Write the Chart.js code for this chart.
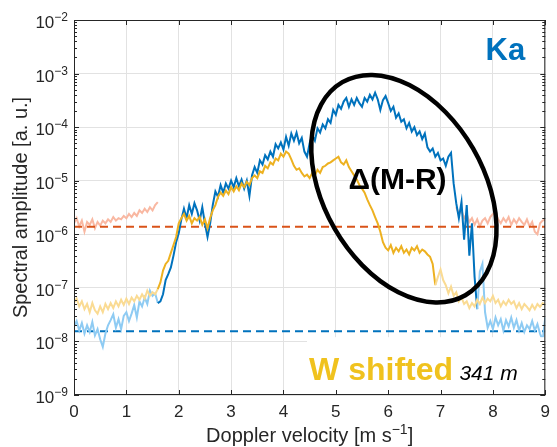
<!DOCTYPE html>
<html>
<head>
<meta charset="utf-8">
<script src="https://cdn.jsdelivr.net/npm/chart.js@4.4.1/dist/chart.umd.min.js"></script>
<style>
  html, body { margin: 0; padding: 0; background: #fff; }
  #wrap { width: 557px; height: 447px; }
</style>
</head>
<body>
<div id="wrap"><canvas id="spectrumChart" width="557" height="447"></canvas></div>
<script>
// Doppler velocity bins [m/s]
const velocity = [
  0, 0.05, 0.1, 0.15, 0.2, 0.25, 0.3, 0.35, 0.4, 0.45,
  0.5, 0.55, 0.6, 0.65, 0.7, 0.75, 0.8, 0.85, 0.9, 0.95,
  1, 1.05, 1.1, 1.15, 1.2, 1.25, 1.3, 1.35, 1.4, 1.45,
  1.5, 1.55, 1.6, 1.65, 1.7, 1.75, 1.8, 1.85, 1.9, 1.95,
  2, 2.05, 2.1, 2.15, 2.2, 2.25, 2.3, 2.35, 2.4, 2.45,
  2.5, 2.55, 2.6, 2.65, 2.7, 2.75, 2.8, 2.85, 2.9, 2.95,
  3, 3.05, 3.1, 3.15, 3.2, 3.25, 3.3, 3.35, 3.4, 3.45,
  3.5, 3.55, 3.6, 3.65, 3.7, 3.75, 3.8, 3.85, 3.9, 3.95,
  4, 4.05, 4.1, 4.15, 4.2, 4.25, 4.3, 4.35, 4.4, 4.45,
  4.5, 4.55, 4.6, 4.65, 4.7, 4.75, 4.8, 4.85, 4.9, 4.95,
  5, 5.05, 5.1, 5.15, 5.2, 5.25, 5.3, 5.35, 5.4, 5.45,
  5.5, 5.55, 5.6, 5.65, 5.7, 5.75, 5.8, 5.85, 5.9, 5.95,
  6, 6.05, 6.1, 6.15, 6.2, 6.25, 6.3, 6.35, 6.4, 6.45,
  6.5, 6.55, 6.6, 6.65, 6.7, 6.75, 6.8, 6.85, 6.9, 6.95,
  7, 7.05, 7.1, 7.15, 7.2, 7.25, 7.3, 7.35, 7.4, 7.45,
  7.5, 7.55, 7.6, 7.65, 7.7, 7.75, 7.8, 7.85, 7.9, 7.95,
  8, 8.05, 8.1, 8.15, 8.2, 8.25, 8.3, 8.35, 8.4, 8.45,
  8.5, 8.55, 8.6, 8.65, 8.7, 8.75, 8.8, 8.85, 8.9, 8.95,
  9
];

// Ka spectrum [a. u.]
const kaAmplitude = [
  1.9e-8, 2.4e-8, 1.6e-8, 2.2e-8, 1.4e-8, 2.0e-8, 1.5e-8, 2.3e-8, 1.3e-8, 1.7e-8,
  1.1e-8, 7.9e-9, 1.4e-8, 2.0e-8, 2.5e-8, 3.2e-8, 1.8e-8, 2.6e-8, 1.7e-8, 3.0e-8,
  3.5e-8, 2.4e-8, 3.3e-8, 4.8e-8, 2.8e-8, 5.6e-8, 4.5e-8, 6.6e-8, 5.0e-8, 8.9e-8,
  7.1e-8, 7.9e-8, 5.2e-8, 5.6e-8, 7.6e-8, 1.4e-7, 1.8e-7, 2.4e-7, 4.0e-7, 7.1e-7,
  1.05e-6, 1.9e-6, 3.0e-6, 2.0e-6, 3.5e-6, 2.4e-6, 3.8e-6, 2.8e-6, 1.8e-6, 3.2e-6,
  1.6e-6, 8.9e-7, 1.6e-6, 3.5e-6, 6.3e-6, 5.0e-6, 8.3e-6, 6.0e-6, 8.9e-6, 7.1e-6,
  1.0e-5, 7.6e-6, 1.12e-5, 7.9e-6, 1.05e-5, 7.1e-6, 1.0e-5, 5.2e-6, 1.26e-5, 1.8e-5,
  1.4e-5, 2.4e-5, 2.0e-5, 3.0e-5, 2.5e-5, 3.5e-5, 2.8e-5, 4.8e-5, 4.0e-5, 5.2e-5,
  3.8e-5, 6.6e-5, 4.5e-5, 7.6e-5, 5.6e-5, 7.9e-5, 5.0e-5, 6.3e-5, 3.5e-5, 2.8e-5,
  5.0e-5, 7.1e-5, 5.6e-5, 9.5e-5, 7.9e-5, 1.12e-4, 9.5e-5, 1.4e-4, 1.2e-4, 2.1e-4,
  1.7e-4, 2.6e-4, 2.2e-4, 3.0e-4, 3.5e-4, 2.4e-4, 3.3e-4, 2.6e-4, 3.5e-4, 2.8e-4,
  2.4e-4, 3.5e-4, 3.0e-4, 4.0e-4, 3.3e-4, 4.4e-4, 3.3e-4, 2.1e-4, 3.2e-4, 3.8e-4,
  2.8e-4, 2.0e-4, 2.4e-4, 1.5e-4, 1.8e-4, 1.26e-4, 1.4e-4, 9.5e-5, 1.2e-4, 8.3e-5,
  1.0e-4, 7.1e-5, 8.3e-5, 6.0e-5, 7.6e-5, 4.2e-5, 3.5e-5, 4.0e-5, 2.8e-5, 3.3e-5,
  2.4e-5, 2.6e-5, 1.9e-5, 2.8e-5, 3.3e-5, 8.9e-6, 3.8e-6, 2.0e-6, 4.0e-6, 7.9e-7,
  3.5e-6, 4.0e-7, 1.6e-6, 1.6e-7, 4.0e-8, 2.0e-7, 2.8e-7, 3.5e-8, 1.8e-8, 2.4e-8,
  1.7e-8, 2.8e-8, 2.0e-8, 2.6e-8, 1.6e-8, 2.5e-8, 1.9e-8, 2.8e-8, 1.8e-8, 2.5e-8,
  1.6e-8, 2.2e-8, 1.5e-8, 2.0e-8, 1.7e-8, 2.4e-8, 1.6e-8, 2.1e-8, 1.4e-8, 1.05e-8,
  2.8e-8
];

// W spectrum, shifted by 341 m [a. u.]
const wShiftedAmplitude = [
  5.2e-8, 6.3e-8, 4.5e-8, 5.6e-8, 4.0e-8, 5.0e-8, 3.5e-8, 5.2e-8, 3.8e-8, 3.3e-8,
  4.5e-8, 3.5e-8, 5.0e-8, 4.0e-8, 5.2e-8, 4.2e-8, 5.6e-8, 4.5e-8, 6.0e-8, 4.8e-8,
  6.3e-8, 5.0e-8, 6.6e-8, 5.6e-8, 7.1e-8, 6.0e-8, 7.6e-8, 6.3e-8, 8.9e-8, 7.1e-8,
  8.3e-8, 7.6e-8, 9.5e-8, 1.26e-7, 2.1e-7, 2.8e-7, 3.2e-7, 4.5e-7, 6.3e-7, 8.9e-7,
  1.6e-6, 2.0e-6, 2.4e-6, 1.8e-6, 2.2e-6, 1.6e-6, 2.0e-6, 1.8e-6, 2.1e-6, 1.5e-6,
  1.9e-6, 1.3e-6, 2.0e-6, 2.8e-6, 3.5e-6, 5.0e-6, 6.0e-6, 5.2e-6, 6.6e-6, 5.6e-6,
  7.6e-6, 6.3e-6, 7.9e-6, 6.6e-6, 8.9e-6, 7.6e-6, 9.5e-6, 8.3e-6, 1.12e-5, 1.26e-5,
  1.12e-5, 1.5e-5, 1.4e-5, 1.9e-5, 1.7e-5, 2.2e-5, 2.0e-5, 2.6e-5, 2.4e-5, 3.2e-5,
  2.8e-5, 3.5e-5, 3.2e-5, 2.5e-5, 1.9e-5, 1.6e-5, 1.7e-5, 1.4e-5, 1.2e-5, 1.3e-5,
  1.12e-5, 1.4e-5, 1.26e-5, 1.6e-5, 1.4e-5, 1.8e-5, 1.9e-5, 2.1e-5, 2.2e-5, 2.4e-5,
  2.6e-5, 2.8e-5, 2.2e-5, 2.0e-5, 2.4e-5, 1.8e-5, 1.5e-5, 1.26e-5, 1.05e-5, 8.3e-6,
  7.1e-6, 6.0e-6, 4.5e-6, 3.5e-6, 2.8e-6, 2.1e-6, 1.6e-6, 1.12e-6, 7.1e-7, 5.6e-7,
  5.0e-7, 6.3e-7, 4.5e-7, 5.6e-7, 4.8e-7, 6.0e-7, 4.5e-7, 5.2e-7, 4.2e-7, 5.6e-7,
  5.0e-7, 6.0e-7, 4.5e-7, 5.2e-7, 4.8e-7, 4.2e-7, 3.8e-7, 2.8e-7, 1.12e-7, 1.6e-7,
  2.2e-7, 1.4e-7, 1.12e-7, 7.9e-8, 1.05e-7, 7.1e-8, 8.3e-8, 5.6e-8, 6.6e-8, 5.0e-8,
  5.6e-8, 4.2e-8, 5.2e-8, 4.5e-8, 6.0e-8, 5.0e-8, 6.6e-8, 5.2e-8, 6.3e-8, 5.6e-8,
  7.1e-8, 5.2e-8, 6.0e-8, 4.5e-8, 5.6e-8, 4.8e-8, 6.0e-8, 5.0e-8, 5.6e-8, 4.2e-8,
  5.2e-8, 4.0e-8, 5.0e-8, 4.4e-8, 3.8e-8, 4.8e-8, 4.0e-8, 5.0e-8, 4.4e-8, 5.2e-8,
  4.8e-8
];

// reference spectrum, only its noise edges are visible (0-1.6 and 7.3-9 m/s)
const refLeftAmplitude = [
  1.6e-6, 2.0e-6, 1.4e-6, 1.8e-6, 1.12e-6, 1.7e-6, 1.5e-6, 1.9e-6, 1.3e-6, 1.7e-6,
  1.45e-6, 1.8e-6, 1.6e-6, 1.9e-6, 1.7e-6, 2.1e-6, 1.8e-6, 2.0e-6, 1.9e-6, 2.2e-6,
  2.0e-6, 2.4e-6, 2.1e-6, 2.5e-6, 2.2e-6, 2.8e-6, 2.5e-6, 3.0e-6, 2.6e-6, 3.2e-6,
  2.8e-6, 3.5e-6, 4.0e-6
];
const refRightAmplitude = [
  3.2e-6, 2.4e-6, 2.8e-6, 2.0e-6, 2.4e-6, 1.7e-6, 2.0e-6, 1.5e-6, 1.9e-6, 1.4e-6,
  1.8e-6, 2.0e-6, 1.6e-6, 2.1e-6, 2.4e-6, 2.6e-6, 1.9e-6, 1.6e-6, 2.0e-6, 1.7e-6,
  2.1e-6, 1.5e-6, 1.9e-6, 1.6e-6, 2.0e-6, 1.7e-6, 1.5e-6, 1.9e-6, 1.4e-6, 1.7e-6,
  1.12e-6, 1.0e-6, 1.6e-6, 1.8e-6, 1.9e-6
];

// noise floors (dashed)
const refNoiseFloor = 1.38e-6;
const kaNoiseFloor = 1.55e-8;

// signal part of each spectrum (drawn in full colour)
const kaSignalRange = [1.6, 7.7];
const wSignalRange = [1.6, 6.9];

const xTicks = [0, 1, 2, 3, 4, 5, 6, 7, 8, 9];
const yTicks = [1e-9, 1e-8, 1e-7, 1e-6, 1e-5, 1e-4, 1e-3, 1e-2];
const yTickExponents = ["\u22129", "\u22128", "\u22127", "\u22126", "\u22125", "\u22124", "\u22123", "\u22122"];

const BLUE = "#0072BD", BLUE_LIGHT = "#8ECBF3";
const YELLOW = "#EDB120", YELLOW_LIGHT = "#FADB93";
const RED = "#D95319", RED_LIGHT = "#F9B8A2";
const AXIS = "#262626";
const FONT = '"Liberation Sans", Arial, sans-serif';

function toPoints(xs, ys) {
  return ys.map((y, i) => ({ x: xs[i], y: y }));
}

function signalColor(range, color) {
  return (c) => (c.p0.parsed.x >= range[0] && c.p1.parsed.x <= range[1] ? color : undefined);
}

const refRightStart = velocity.indexOf(7.3);

// frame, inward ticks, 10^n labels, ellipse and the text annotations
const annotations = {
  id: "annotations",
  afterDatasetsDraw(chart) {
    const { ctx, chartArea: a, scales: { x, y } } = chart;
    ctx.save();

    // white panel behind "W shifted"
    ctx.fillStyle = "#fff";
    const bx = x.getPixelForValue(4.45);
    const by = y.getPixelForValue(1.2e-8);
    ctx.fillRect(bx, by, a.right - 1 - bx, a.bottom - 1 - by);

    // frame
    ctx.strokeStyle = AXIS;
    ctx.lineWidth = 1;
    ctx.strokeRect(a.left + 0.5, a.top + 0.5, a.right - a.left - 1, a.bottom - a.top - 1);

    ctx.beginPath();
    xTicks.forEach((v) => {
      const px = Math.round(x.getPixelForValue(v)) + 0.5;
      ctx.moveTo(px, a.bottom); ctx.lineTo(px, a.bottom - 5);
      ctx.moveTo(px, a.top); ctx.lineTo(px, a.top + 5);
    });
    yTicks.forEach((v, i) => {
      const py = Math.round(y.getPixelForValue(v)) + 0.5;
      ctx.moveTo(a.left, py); ctx.lineTo(a.left + 5, py);
      ctx.moveTo(a.right, py); ctx.lineTo(a.right - 5, py);
      if (i < yTicks.length - 1) {
        for (let k = 2; k <= 9; k++) {
          const pm = Math.round(y.getPixelForValue(v * k)) + 0.5;
          ctx.moveTo(a.left, pm); ctx.lineTo(a.left + 3, pm);
          ctx.moveTo(a.right, pm); ctx.lineTo(a.right - 3, pm);
        }
      }
    });
    ctx.stroke();

    // y tick labels with a real superscript
    ctx.fillStyle = AXIS;
    ctx.textAlign = "left";
    ctx.textBaseline = "alphabetic";
    yTicks.forEach((v, i) => {
      const py = y.getPixelForValue(v);
      ctx.font = "12px " + FONT;
      const ew = ctx.measureText(yTickExponents[i]).width;
      ctx.font = "17px " + FONT;
      const bw = ctx.measureText("10").width;
      const right = a.left - 6;
      ctx.fillText("10", right - ew - bw, py + 8);
      ctx.font = "12px " + FONT;
      ctx.fillText(yTickExponents[i], right - ew, py + 1);
    });

    // x axis title with a real superscript
    const parts = [["Doppler velocity [m s", "20px", 0], ["\u22121", "14px", -8], ["]", "20px", 0]];
    let total = 0;
    parts.forEach((p) => { ctx.font = p[1] + " " + FONT; total += ctx.measureText(p[0]).width; });
    let tx = (a.left + a.right) / 2 - total / 2;
    parts.forEach((p) => {
      ctx.font = p[1] + " " + FONT;
      ctx.fillText(p[0], tx, 442 + p[2]);
      tx += ctx.measureText(p[0]).width;
    });

    // ellipse round the Ka - W difference
    const cx = x.getPixelForValue(6.3);
    const cy = y.getPixelForValue(7.1e-6);
    ctx.beginPath();
    ctx.ellipse(cx, cy, 123, 80, Math.PI / 3, 0, 2 * Math.PI);
    ctx.lineWidth = 4.5;
    ctx.strokeStyle = "#000";
    ctx.stroke();

    ctx.fillStyle = BLUE;
    ctx.font = "bold 31px " + FONT;
    ctx.fillText("Ka", x.getPixelForValue(7.86), y.getPixelForValue(1.79e-3));

    ctx.fillStyle = "#000";
    ctx.font = "bold 30px " + FONT;
    ctx.fillText("\u0394(M-R)", x.getPixelForValue(5.24), y.getPixelForValue(6.9e-6));

    ctx.fillStyle = "#F0C21E";
    ctx.font = "bold 32px " + FONT;
    ctx.fillText("W shifted", x.getPixelForValue(4.49), y.getPixelForValue(1.9e-9));

    ctx.fillStyle = "#000";
    ctx.font = "italic 21px " + FONT;
    ctx.fillText("341 m", x.getPixelForValue(7.36), y.getPixelForValue(1.9e-9));

    ctx.restore();
  }
};

new Chart(document.getElementById("spectrumChart"), {
  type: "line",
  data: {
    datasets: [
      {
        label: "W shifted",
        data: toPoints(velocity, wShiftedAmplitude),
        borderColor: YELLOW_LIGHT,
        borderWidth: 2,
        segment: { borderColor: signalColor(wSignalRange, YELLOW) },
      },
      {
        label: "Ka",
        data: toPoints(velocity, kaAmplitude),
        borderColor: BLUE_LIGHT,
        borderWidth: 2,
        segment: { borderColor: signalColor(kaSignalRange, BLUE) },
      },
      {
        label: "reference noise level",
        data: [{ x: 0, y: refNoiseFloor }, { x: 9, y: refNoiseFloor }],
        borderColor: RED,
        borderWidth: 2,
        borderDash: [8, 5],
      },
      {
        label: "Ka noise level",
        data: [{ x: 0, y: kaNoiseFloor }, { x: 9, y: kaNoiseFloor }],
        borderColor: BLUE,
        borderWidth: 2,
        borderDash: [8, 5],
      },
      {
        label: "reference (left)",
        data: toPoints(velocity, refLeftAmplitude),
        borderColor: RED_LIGHT,
        borderWidth: 2,
      },
      {
        label: "reference (right)",
        data: toPoints(velocity.slice(refRightStart), refRightAmplitude),
        borderColor: RED_LIGHT,
        borderWidth: 2,
      },
    ],
  },
  options: {
    responsive: false,
    animation: false,
    events: [],
    layout: { padding: { top: 20, right: 7, left: 0, bottom: 0 } },
    elements: { point: { radius: 0 }, line: { tension: 0 } },
    plugins: { legend: { display: false }, tooltip: { enabled: false } },
    scales: {
      x: {
        type: "linear",
        min: 0,
        max: 9,
        afterFit: (s) => { s.height = 52; },
        afterBuildTicks: (s) => { s.ticks = xTicks.map((v) => ({ value: v })); },
        grid: { color: "#e2e2e2", drawTicks: false },
        border: { display: false },
        ticks: { color: AXIS, padding: 7, font: { family: FONT, size: 17 } },
        title: { display: false },
      },
      y: {
        type: "logarithmic",
        min: 1e-9,
        max: 1e-2,
        afterFit: (s) => { s.width = 74; },
        afterBuildTicks: (s) => { s.ticks = yTicks.map((v) => ({ value: v })); },
        grid: { color: "#e2e2e2", drawTicks: false },
        border: { display: false },
        ticks: { display: false },
        title: {
          display: true,
          text: "Spectral amplitude [a. u.]",
          color: AXIS,
          font: { family: FONT, size: 20 },
          padding: { top: 9, bottom: 0 },
        },
      },
    },
  },
  plugins: [annotations],
});
</script>
</body>
</html>
